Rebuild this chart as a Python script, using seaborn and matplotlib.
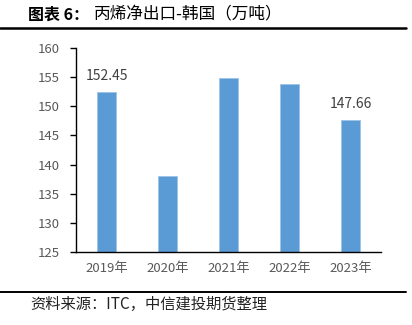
import matplotlib
matplotlib.use("Agg")
import matplotlib.pyplot as plt
import seaborn as sns
import pandas as pd
from matplotlib.lines import Line2D

years = ["2019年", "2020年", "2021年", "2022年", "2023年"]
values = [152.45, 138.0, 154.9, 153.8, 147.66]
labels = {0: "152.45", 4: "147.66"}
yticks = [125, 130, 135, 140, 145, 150, 155, 160]

sns.set_theme(style="white")
plt.rcParams['font.family'] = ['Noto Sans CJK SC', 'DejaVu Sans']

df = pd.DataFrame({"year": years, "value": values})
fig = plt.figure(figsize=(4.12, 3.25), dpi=100)
ax = fig.add_axes([0.1845, 0.2246, 0.7405, 0.6274])
sns.barplot(data=df, x="year", y="value", color="#5B9BD5", width=0.31,
            saturation=1, ax=ax, edgecolor="#9DC3E6", linewidth=0.6)
ax.set_ylim(125, 160)
ax.set_yticks(yticks)
ax.set_xlim(-0.5, 4.5)
ax.set_xlabel("")
ax.set_ylabel("")
for s in ["top", "right"]:
    ax.spines[s].set_visible(False)
ax.spines["left"].set_color("black")
ax.spines["bottom"].set_color("black")
ax.spines["left"].set_linewidth(1.0)
ax.spines["bottom"].set_linewidth(1.0)
ax.tick_params(axis="y", which="major", direction="out", length=4, width=1,
               color="black", labelsize=9.5, labelcolor="#595959", left=True, pad=8)
ax.tick_params(axis="x", length=0, labelsize=9.5, labelcolor="#595959", pad=7)
for i, t in labels.items():
    ax.text(i, values[i] + 1.6, t, ha="center", va="bottom", fontsize=10, color="#404040")

fig.text(0.068, 0.955, "图表 6：", fontsize=11.5, fontweight="bold", va="center", ha="left", color="black")
fig.text(0.228, 0.955, "丙烯净出口-韩国（万吨）", fontsize=12, va="center", ha="left", color="black")
fig.add_artist(Line2D([0.0, 0.985], [0.914, 0.914], color="black", linewidth=1.8, transform=fig.transFigure))
fig.add_artist(Line2D([0.0, 0.985], [0.102, 0.102], color="black", linewidth=1.4, transform=fig.transFigure))
fig.text(0.073, 0.062, "资料来源：ITC，中信建投期货整理", fontsize=11, style="italic", va="center", ha="left", color="#222222")

fig.savefig("out.png", dpi=100)
